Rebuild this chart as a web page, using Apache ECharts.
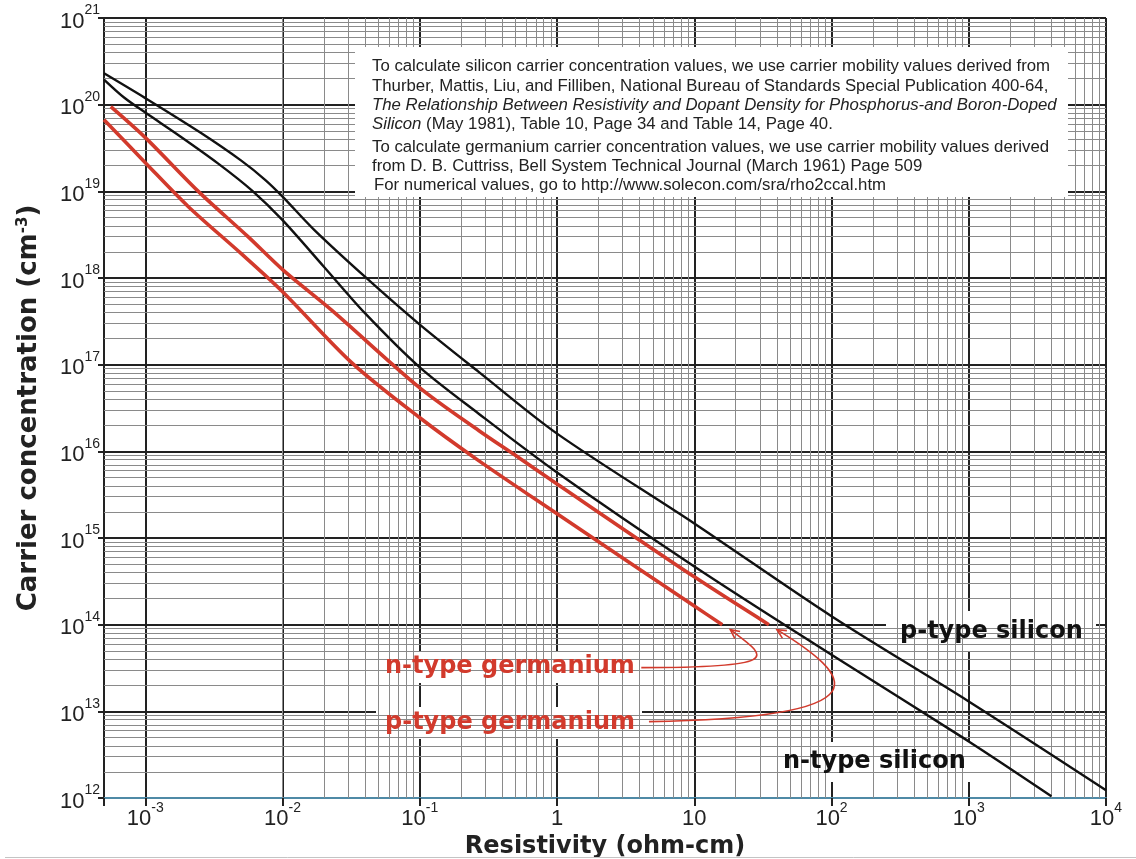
<!DOCTYPE html>
<html>
<head>
<meta charset="utf-8">
<title>Carrier concentration vs resistivity</title>
<script src="https://cdn.jsdelivr.net/npm/echarts@6/dist/echarts.min.js"></script>
<style>
* { margin: 0; padding: 0; }
html, body { background: #fff; }
#main { width: 1136px; height: 859px; }
</style>
</head>
<body>
<div id="main"></div>
<script>
// resistivity (ohm-cm) and carrier concentration (cm^-3)
var pSiRho  = [5e-4, 1e-3, 2.5e-3, 5e-3, 7.5e-3, 1e-2, 1.7e-2, 4e-2, 0.1, 0.27, 1, 10, 100, 1000, 1e4];
var pSiConc = [2.3e20, 1.19e20, 4.8e19, 2.26e19, 1.35e19, 8.7e18, 3.6e18, 1.03e18, 2.9e17, 8.2e16, 1.6e16, 1.47e15, 1.25e14, 1.3e13, 1.23e12];

var nSiRho  = [5e-4, 7e-4, 1e-3, 1.8e-3, 3.4e-3, 6e-3, 1e-2, 2e-2, 4e-2, 0.1, 0.27, 1, 10, 100, 1000, 4000];
var nSiConc = [1.95e20, 1.21e20, 8.1e19, 4.3e19, 2.09e19, 1.02e19, 4.65e18, 1.35e18, 3.9e17, 9.3e16, 2.7e16, 5.7e15, 4.7e14, 4.5e13, 4.5e12, 1.05e12];

var pGeRho  = [5.6e-4, 1e-3, 2.4e-3, 5.6e-3, 1e-2, 2.3e-2, 0.1, 0.27, 0.53, 1, 10, 35];
var pGeConc = [9.5e19, 4.17e19, 1.02e19, 3.0e18, 1.25e18, 4.2e17, 5.4e16, 1.73e16, 8.4e15, 4.2e15, 3.56e14, 1.0e14];

var nGeRho  = [5e-4, 1e-3, 2.06e-3, 5e-3, 1e-2, 3.2e-2, 0.1, 0.27, 1, 10, 16];
var nGeConc = [6.7e19, 2.14e19, 6.65e18, 1.91e18, 6.95e17, 1.05e17, 2.44e16, 7.76e15, 1.9e15, 1.64e14, 1.0e14];

// axis range and tick labels (powers of ten)
var xMin = 5e-4, xMax = 1e4;
var yMin = 1e12, yMax = 1e21;
var xTickExp = [-3, -2, -1, 0, 1, 2, 3, 4];
var yTickExp = [12, 13, 14, 15, 16, 17, 18, 19, 20, 21];
var minorSteps = [2, 3, 4, 5, 6, 7, 8, 9];

var noteLines = [
  "To calculate silicon carrier concentration values, we use carrier mobility values derived from",
  "Thurber, Mattis, Liu, and Filliben, National Bureau of Standards Special Publication 400-64,",
  "{i|The Relationship Between Resistivity and Dopant Density for Phosphorus-and Boron-Doped}",
  "{i|Silicon} (May 1981), Table 10, Page 34 and Table 14, Page 40.",
  "To calculate germanium carrier concentration values, we use carrier mobility values derived",
  "from D. B. Cuttriss, Bell System Technical Journal (March 1961) Page 509",
  "For numerical values, go to http://www.solecon.com/sra/rho2ccal.htm"
];
var noteY = [66, 86, 105, 124, 147, 166, 185];

var RED = "#d23a2c";
var BASEFONT = "'Liberation Sans', Arial, sans-serif";
var BOLDFONT = "'DejaVu Sans', sans-serif";

function pairs(xs, ys) {
  return xs.map(function (x, i) { return [x, ys[i]]; });
}

function powLabel(v, list, plainSmall) {
  var e = Math.log10(v);
  var r = Math.round(e);
  if (Math.abs(e - r) > 1e-6 || list.indexOf(r) < 0) return "";
  if (plainSmall && r === 0) return "{b|1}";
  if (plainSmall && r === 1) return "{b|10}";
  return "{b|10}{s|" + r + "}";
}

// minor grid lines at 2..9 of each decade
var minorLines = [];
for (var d = -4; d < 4; d++) {
  minorSteps.forEach(function (k) {
    var v = k * Math.pow(10, d);
    if (v > xMin * 1.001 && v < xMax) minorLines.push({ xAxis: v });
  });
}
for (var d2 = 12; d2 < 21; d2++) {
  minorSteps.forEach(function (k) {
    minorLines.push({ yAxis: k * Math.pow(10, d2) });
  });
}

var labelRich = {
  b: { fontSize: 22, fontFamily: BASEFONT, color: "#222", padding: [7, 0, 0, 0] },
  s: { fontSize: 14, fontFamily: BASEFONT, color: "#222", verticalAlign: "top" }
};

var chart = echarts.init(document.getElementById("main"));
chart.setOption({
  animation: false,
  backgroundColor: "#fff",
  grid: { left: 104, right: 30, top: 18, bottom: 61, containLabel: false, outerBoundsMode: "none" },
  xAxis: {
    type: "log",
    logBase: 10,
    min: xMin,
    max: xMax,
    splitNumber: 8,
    z: 3,
    name: "Resistivity (ohm-cm)",
    nameLocation: "middle",
    nameGap: 36,
    nameTextStyle: { fontFamily: BOLDFONT, fontWeight: "bold", fontSize: 24, color: "#222" },
    axisLine: { lineStyle: { color: "#4f8aa6", width: 2 } },
    axisTick: { show: true, length: 8, lineStyle: { color: "#222", width: 2 } },
    axisLabel: {
      margin: 3,
      formatter: function (v) { return powLabel(v, xTickExp, true); },
      rich: labelRich
    },
    splitLine: { show: true, lineStyle: { color: "#222", width: 2 } }
  },
  yAxis: {
    type: "log",
    logBase: 10,
    min: yMin,
    max: yMax,
    splitNumber: 9,
    z: 3,
    name: "{t|Carrier concentration (cm}{s|-3}{t|)}",
    nameLocation: "middle",
    nameGap: 62,
    nameRotate: 90,
    nameTextStyle: {
      rich: {
        t: { fontFamily: BOLDFONT, fontWeight: "bold", fontSize: 26, color: "#222" },
        s: { fontFamily: BOLDFONT, fontWeight: "bold", fontSize: 15, color: "#222", verticalAlign: "top" }
      }
    },
    axisLine: { show: true, lineStyle: { color: "#222", width: 2 } },
    axisTick: { show: true, length: 6, lineStyle: { color: "#222", width: 2 } },
    axisLabel: {
      margin: 4,
      formatter: function (v) { return powLabel(v, yTickExp, false); },
      rich: labelRich
    },
    splitLine: { show: true, lineStyle: { color: "#222", width: 2 } }
  },
  series: [
    {
      name: "minor grid",
      type: "line",
      data: [[xMin, yMax]],
      showSymbol: false,
      silent: true,
      lineStyle: { opacity: 0 },
      z: 1,
      markLine: {
        silent: true,
        symbol: ["none", "none"],
        label: { show: false },
        lineStyle: { color: "#8a8a8a", width: 1, type: "solid" },
        emphasis: { disabled: true },
        data: minorLines
      }
    },
    {
      name: "p-type silicon",
      type: "line",
      data: pairs(pSiRho, pSiConc),
      showSymbol: false,
      smooth: 0.3,
      z: 5,
      lineStyle: { color: "#111", width: 2.4 }
    },
    {
      name: "n-type silicon",
      type: "line",
      data: pairs(nSiRho, nSiConc),
      showSymbol: false,
      smooth: 0.3,
      z: 5,
      lineStyle: { color: "#111", width: 2.4 }
    },
    {
      name: "p-type germanium",
      type: "line",
      data: pairs(pGeRho, pGeConc),
      showSymbol: false,
      smooth: 0.3,
      z: 5,
      lineStyle: { color: RED, width: 3.6 }
    },
    {
      name: "n-type germanium",
      type: "line",
      data: pairs(nGeRho, nGeConc),
      showSymbol: false,
      smooth: 0.3,
      z: 5,
      lineStyle: { color: RED, width: 3.6 }
    }
  ]
});

// annotations: note box, curve labels and the arrows to the germanium curve ends
function arrow(tip, s, c1, c2) {
  var dx = tip[0] - c2[0], dy = tip[1] - c2[1];
  var ang = Math.atan2(dy, dx);
  var len = 10, spread = 0.45;
  var head = [
    [tip[0] - len * Math.cos(ang - spread), tip[1] - len * Math.sin(ang - spread)],
    tip,
    [tip[0] - len * Math.cos(ang + spread), tip[1] - len * Math.sin(ang + spread)]
  ];
  return [
    {
      type: "bezierCurve", z: 6, silent: true,
      shape: { x1: s[0], y1: s[1], cpx1: c1[0], cpy1: c1[1], cpx2: c2[0], cpy2: c2[1], x2: tip[0], y2: tip[1] },
      style: { stroke: RED, lineWidth: 1.6, fill: null }
    },
    { type: "polyline", z: 6, silent: true, shape: { points: head }, style: { stroke: RED, lineWidth: 1.6, fill: null } }
  ];
}

function curveLabel(text, x, y, color, box) {
  return [
    { type: "rect", z: 4, silent: true, shape: { x: box[0], y: box[1], width: box[2], height: box[3] }, style: { fill: "#fff" } },
    {
      type: "text", z: 7, silent: true, x: x, y: y,
      style: { text: text, fill: color, font: "bold 24px " + BOLDFONT, verticalAlign: "middle", lineWidth: 0 }
    }
  ];
}

var nGeEnd = chart.convertToPixel({ gridIndex: 0 }, [nGeRho[nGeRho.length - 1], nGeConc[nGeConc.length - 1]]);
var pGeEnd = chart.convertToPixel({ gridIndex: 0 }, [pGeRho[pGeRho.length - 1], pGeConc[pGeConc.length - 1]]);
var nTip = [nGeEnd[0] + 8, nGeEnd[1] + 5];
var pTip = [pGeEnd[0] + 8, pGeEnd[1] + 5];

var elements = [
  { type: "rect", z: 10, silent: true, shape: { x: 355, y: 47, width: 713, height: 150 }, style: { fill: "#fff" } },
  { type: "line", z: 10, silent: true, shape: { x1: 5, y1: 857.5, x2: 1136, y2: 857.5 }, style: { stroke: "#c4c4c4", lineWidth: 1 } }
]
  .concat(curveLabel("p-type silicon", 900, 632, "#111", [886, 611, 210, 40]))
  .concat(curveLabel("n-type silicon", 783, 762, "#111", [772, 742, 205, 40]))
  .concat(curveLabel("n-type germanium", 385, 667, RED, [376, 651, 266, 32]))
  .concat(curveLabel("p-type germanium", 385, 723, RED, [376, 707, 266, 32]));

noteLines.forEach(function (t, i) {
  elements.push({
    type: "text", z: 11, silent: true, x: i === 6 ? 374 : 372, y: noteY[i],
    style: {
      text: t, fill: "#222", fontSize: 16.8, fontFamily: BASEFONT, verticalAlign: "middle",
      rich: { i: { fontStyle: "italic", fontSize: 16.8, fontFamily: BASEFONT, fill: "#222" } }
    }
  });
});
elements = elements
  .concat(arrow(nTip, [nTip[0] - 89, nTip[1] + 38], [nTip[0] + 58, nTip[1] + 38], [nTip[0] + 36, nTip[1] + 27]))
  .concat(arrow(pTip, [pTip[0] - 128, pTip[1] + 92], [pTip[0] + 115, pTip[1] + 88], [pTip[0] + 75, pTip[1] + 46]));

chart.setOption({ graphic: { elements: elements } });
</script>
</body>
</html>
